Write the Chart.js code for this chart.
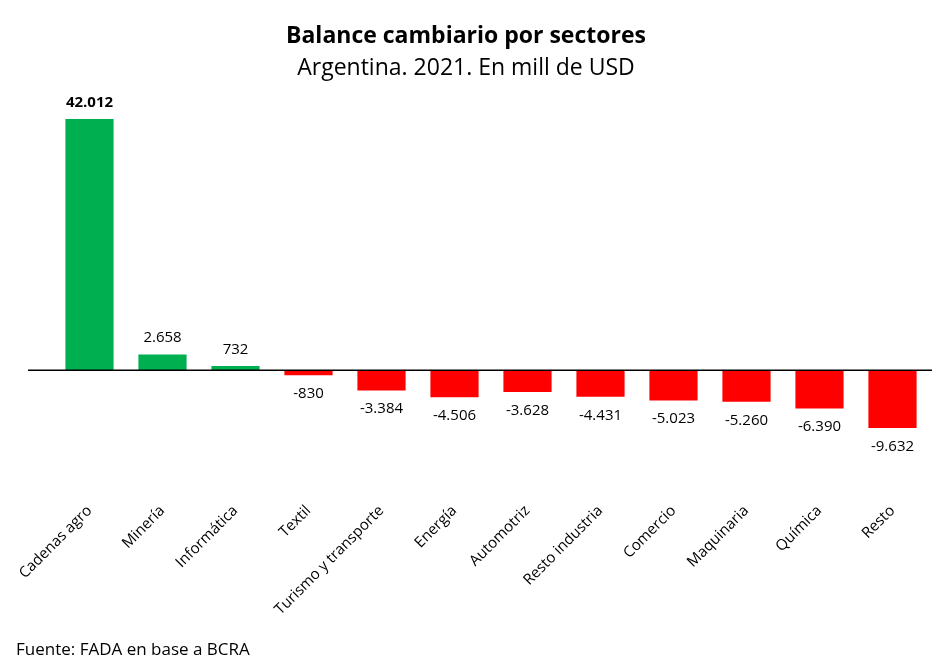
<!DOCTYPE html>
<html><head><meta charset="utf-8">
<script src="https://cdn.jsdelivr.net/npm/chart.js@4/dist/chart.umd.min.js"></script>
<style>
body{margin:0;background:#fff;font-family:"Open Sans",sans-serif}
#wrap{position:relative;width:932px;height:666px}
.t{position:absolute;left:0;width:932px;text-align:center;color:#000}
#src{position:absolute;left:16px;top:637px;font-size:17px}
</style></head><body>
<div id="wrap">
<div class="t" style="top:18px;font-size:23px;font-weight:bold">Balance cambiario por sectores</div>
<div class="t" style="top:50px;font-size:23px">Argentina. 2021. En mill de USD</div>
<canvas id="c" width="932" height="666"></canvas>
<div id="src">Fuente: FADA en base a BCRA</div>
</div>
<script>
/* ===== Data ===== */
const sectors = ["Cadenas agro","Minería","Informática","Textil","Turismo y transporte","Energía","Automotriz","Resto industria","Comercio","Maquinaria","Química","Resto"];
const balance = [42012, 2658, 732, -830, -3384, -4506, -3628, -4431, -5023, -5260, -6390, -9632];

/* ===== Value labels + zero line ===== */
const valueLabels = {
  id: "valueLabels",
  afterDatasetsDraw(chart) {
    const ctx = chart.ctx;
    const y = chart.scales.y;
    const x0 = y.getPixelForValue(0);
    ctx.save();
    ctx.strokeStyle = "#000";
    ctx.lineWidth = 1.5;
    ctx.beginPath();
    ctx.moveTo(28, x0);
    ctx.lineTo(932, x0);
    ctx.stroke();
    ctx.fillStyle = "#000";
    ctx.textAlign = "center";
    chart.getDatasetMeta(0).data.forEach((bar, i) => {
      const v = balance[i];
      ctx.font = (i === 0 ? "bold " : "") + "15px 'Open Sans'";
      const txt = v.toLocaleString("es-AR");
      if (v >= 0) {
        ctx.textBaseline = "bottom";
        ctx.fillText(txt, bar.x, bar.y - 9);
      } else {
        ctx.textBaseline = "top";
        ctx.fillText(txt, bar.x, bar.y + 11);
      }
    });
    ctx.restore();
  }
};

new Chart(document.getElementById("c"), {
  type: "bar",
  data: {
    labels: sectors,
    datasets: [{
      data: balance,
      backgroundColor: balance.map(v => v >= 0 ? "#00b050" : "#ff0000"),
      categoryPercentage: 1,
      barPercentage: 0.66
    }]
  },
  options: {
    responsive: false,
    animation: false,
    layout: { padding: { top: 119, left: 53, right: 3, bottom: 36 } },
    plugins: { legend: { display: false }, tooltip: { enabled: false } },
    scales: {
      y: { display: false, min: -20000, max: 42012 },
      x: {
        grid: { display: false },
        border: { display: false },
        afterFit: s => { s.height = 140; },
        ticks: {
          autoSkip: false, minRotation: 45, maxRotation: 45,
          color: "#000", font: { family: "Open Sans", size: 15 }, padding: 4
        }
      }
    }
  },
  plugins: [valueLabels]
});
</script>
</body></html>
